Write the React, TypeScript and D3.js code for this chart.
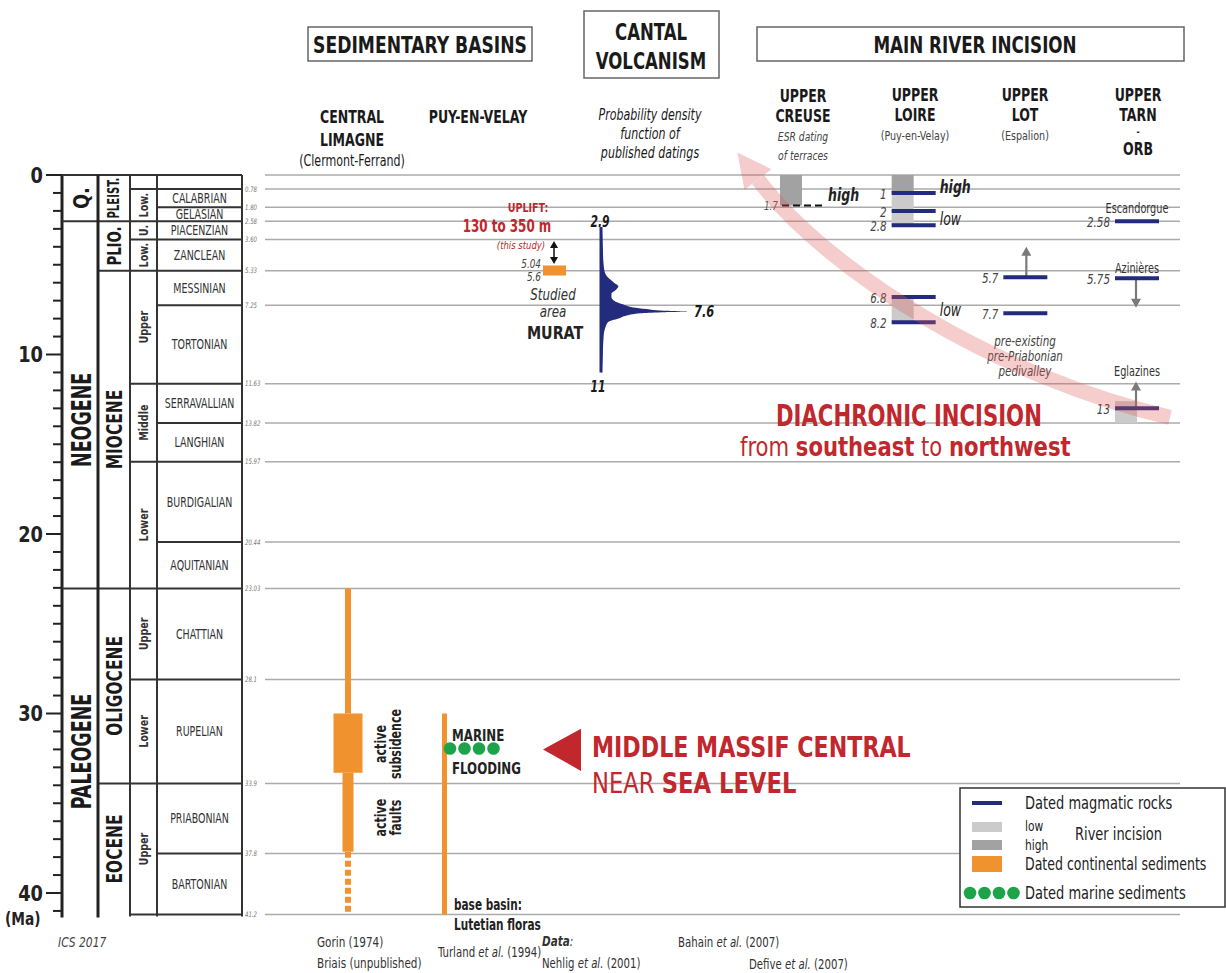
import * as d3 from "d3";

const FONT = "'Liberation Sans Narrow', 'DejaVu Sans Condensed', 'Arial Narrow', sans-serif";
const RED = "#c1272d";
const NAVY = "#232b7c";
const ORANGE = "#f0922e";
const GREEN = "#1fa34a";
const GREY_LOW = "#cbcbcb";
const GREY_HIGH = "#a2a2a2";

// chronostratigraphy (ICS 2017), ages in Ma
const eras = [
  { name: "Q.", top: 0, base: 2.58 },
  { name: "NEOGENE", top: 2.58, base: 23.03 },
  { name: "PALEOGENE", top: 23.03, base: 41.2 },
];
const epochs = [
  { name: "PLEIST.", top: 0, base: 2.58 },
  { name: "PLIO.", top: 2.58, base: 5.33 },
  { name: "MIOCENE", top: 5.33, base: 23.03 },
  { name: "OLIGOCENE", top: 23.03, base: 33.9 },
  { name: "EOCENE", top: 33.9, base: 41.2 },
];
const subEpochs = [
  { name: "", top: 0, base: 0.78 },
  { name: "Low.", top: 0.78, base: 2.58 },
  { name: "U.", top: 2.58, base: 3.6 },
  { name: "Low.", top: 3.6, base: 5.33 },
  { name: "Upper", top: 5.33, base: 11.63 },
  { name: "Middle", top: 11.63, base: 15.97 },
  { name: "Lower", top: 15.97, base: 23.03 },
  { name: "Upper", top: 23.03, base: 28.1 },
  { name: "Lower", top: 28.1, base: 33.9 },
  { name: "Upper", top: 33.9, base: 41.2 },
];
const stages = [
  { name: "", top: 0, base: 0.78 },
  { name: "CALABRIAN", top: 0.78, base: 1.8 },
  { name: "GELASIAN", top: 1.8, base: 2.58 },
  { name: "PIACENZIAN", top: 2.58, base: 3.6 },
  { name: "ZANCLEAN", top: 3.6, base: 5.33 },
  { name: "MESSINIAN", top: 5.33, base: 7.25 },
  { name: "TORTONIAN", top: 7.25, base: 11.63 },
  { name: "SERRAVALLIAN", top: 11.63, base: 13.82 },
  { name: "LANGHIAN", top: 13.82, base: 15.97 },
  { name: "BURDIGALIAN", top: 15.97, base: 20.44 },
  { name: "AQUITANIAN", top: 20.44, base: 23.03 },
  { name: "CHATTIAN", top: 23.03, base: 28.1 },
  { name: "RUPELIAN", top: 28.1, base: 33.9 },
  { name: "PRIABONIAN", top: 33.9, base: 37.8 },
  { name: "BARTONIAN", top: 37.8, base: 41.2 },
];
const boundaryAges = [0, 0.78, 1.8, 2.58, 3.6, 5.33, 7.25, 11.63, 13.82, 15.97, 20.44, 23.03, 28.1, 33.9, 37.8, 41.2];
const boundaryLabels = ["", "0.78", "1.80", "2.58", "3.60", "5.33", "7.25", "11.63", "13.82", "15.97", "20.44", "23.03", "28.1", "33.9", "37.8", "41.2"];
const majorTicks = [0, 10, 20, 30, 40];

// Cantal volcanism probability density (relative)
const pdfAges = [2.9, 4.0, 5.0, 5.5, 5.8, 6.0, 6.2, 6.4, 6.6, 6.8, 7.0, 7.2, 7.4, 7.5, 7.56, 7.6, 7.64, 7.7, 7.8, 8.0, 8.2, 8.5, 9.0, 10.0, 11.0];
const pdfDensity = [0.01, 0.02, 0.03, 0.05, 0.1, 0.15, 0.2, 0.17, 0.12, 0.12, 0.15, 0.25, 0.4, 0.58, 0.75, 1.0, 0.7, 0.45, 0.32, 0.2, 0.08, 0.05, 0.03, 0.02, 0.01];

// sedimentary basins
const limagneSegments = [
  { top: 23.03, base: 30, width: 6, dashed: false },
  { top: 30, base: 33.3, width: 29, dashed: false },
  { top: 33.3, base: 37.7, width: 11, dashed: false },
  { top: 37.7, base: 41.2, width: 6, dashed: true },
];
const puySegment = { top: 30, base: 41.2 };
const marineFloodingAge = 31.95;
const marineDots = [0, 1, 2, 3];
const studiedArea = { top: 5.04, base: 5.6 };

// river incision
const rivers = ["creuse", "loire", "lot", "tarn"];
const magmaticRocks = [
  { river: "loire", age: 1, label: "1" },
  { river: "loire", age: 2, label: "2" },
  { river: "loire", age: 2.8, label: "2.8" },
  { river: "loire", age: 6.8, label: "6.8" },
  { river: "loire", age: 8.2, label: "8.2" },
  { river: "lot", age: 5.7, label: "5.7" },
  { river: "lot", age: 7.7, label: "7.7" },
  { river: "tarn", age: 2.58, label: "2.58" },
  { river: "tarn", age: 5.75, label: "5.75" },
  { river: "tarn", age: 13, label: "13" },
];
const incisionBoxes = [
  { river: "creuse", top: 0, base: 1.7, level: "high" },
  { river: "loire", top: 0, base: 1, level: "high" },
  { river: "loire", top: 1, base: 2.8, level: "low" },
  { river: "loire", top: 6.8, base: 8.2, level: "low" },
  { river: "tarn", top: 12.6, base: 13.82, level: "low" },
];
const incisionArrows = [
  { river: "lot", from: 5.7, to: 4.0, dx: 0 },
  { river: "tarn", from: 5.75, to: 7.4, dx: -2 },
  { river: "tarn", from: 13, to: 11.5, dx: -2 },
];
const siteNames = [
  { river: "tarn", age: 1.85, name: "Escandorgue" },
  { river: "tarn", age: 5.2, name: "Azinières" },
  { river: "tarn", age: 10.95, name: "Eglazines" },
];
const levelNotes = [
  { river: "creuse", age: 1.1, text: "high", bold: true },
  { river: "loire", age: 0.65, text: "high", bold: true },
  { river: "loire", age: 2.45, text: "low", bold: false },
  { river: "loire", age: 7.5, text: "low", bold: false },
];

const y = d3.scaleLinear().domain([0, 40]).range([175, 893]);
const riverX = d3.scalePoint<string>().domain(rivers).range([803, 1138]);
const pdfX0 = 601;
const pdfX = d3.scaleLinear().domain([0, 1]).range([pdfX0, pdfX0 + 87]);

const COL = { axis: 62, era: 98, epoch: 130, sub: 157, stage: 242 };

// condensed text: horizontal squeeze along the text direction
function T({ x, y: ty, sx = 0.82, rot = 0, children, ...rest }: any) {
  return (
    <text transform={`translate(${x},${ty})${rot ? ` rotate(${rot})` : ""} scale(${sx},1)`} {...rest}>
      {children}
    </text>
  );
}

function VArrow({ x, from, to, color = "#7a7a7a" }: { x: number; from: number; to: number; color?: string }) {
  const y1 = y(from);
  const y2 = y(to);
  const dir = y2 < y1 ? 1 : -1;
  return (
    <g>
      <line x1={x} x2={x} y1={y1} y2={y2 + dir * 8} stroke={color} strokeWidth={2.2} />
      <path d={`M${x - 5},${y2 + dir * 9}L${x + 5},${y2 + dir * 9}L${x},${y2}Z`} fill={color} />
      <line x1={x - 9} x2={x + 9} y1={y1} y2={y1} stroke={color} strokeWidth={1.5} />
    </g>
  );
}

export default function App() {
  const pdfData = pdfAges.map((a, i) => ({ age: a, d: pdfDensity[i] }));
  const area = d3
    .area<{ age: number; d: number }>()
    .y((d) => y(d.age))
    .x0(pdfX0)
    .x1((d) => pdfX(d.d))
    .curve(d3.curveMonotoneY);

  const leftOf = (age: number) => {
    if (eras.some((e) => e.top === age)) return COL.axis;
    if (epochs.some((e) => e.top === age)) return COL.era;
    if (subEpochs.some((e) => e.top === age)) return COL.epoch;
    return COL.sub;
  };

  // pink diachronic arrow (drawn in Ma space)
  const p0 = [1170, y(13.5)];
  const c1 = [1000, y(11.3)];
  const c2 = [830, y(5.5)];
  const p3 = [758, y(0.25)];
  const dx = p3[0] - c2[0];
  const dy = p3[1] - c2[1];
  const len = Math.hypot(dx, dy);
  const ux = dx / len;
  const uy = dy / len;
  const tip = [p3[0] + ux * 34, p3[1] + uy * 34];
  const hl = [p3[0] - uy * 17, p3[1] + ux * 17];
  const hr = [p3[0] + uy * 17, p3[1] - ux * 17];

  return (
    <svg width={1226} height={973} style={{ position: "absolute", left: 0, top: 0, background: "#fff" }} fontFamily={FONT}>
      {/* grey time lines across the panels */}
      {boundaryAges.map((a, i) => (
        <g key={"b" + i}>
          <line x1={265} x2={1180} y1={y(a)} y2={y(a)} stroke="#ababab" strokeWidth={1.5} />
          <T x={245} y={y(a)} sx={0.8} dy="0.35em" fontSize={7.5} fontStyle="italic" fill="#777">
            {boundaryLabels[i]}
          </T>
        </g>
      ))}

      {/* axis */}
      <line x1={COL.axis} x2={COL.axis} y1={y(0)} y2={y(41.2) + 3} stroke="#222" strokeWidth={3} />
      {d3.range(0, 42).map((t) => (
        <line key={"t" + t} x1={majorTicks.includes(t) ? 46 : 53} x2={COL.axis} y1={y(t)} y2={y(t)} stroke="#222" strokeWidth={2} />
      ))}
      {majorTicks.map((t) => (
        <T key={"tl" + t} x={43} y={y(t)} sx={0.9} dy="0.36em" textAnchor="end" fontSize={22} fontWeight="bold" fill="#222">
          {t}
        </T>
      ))}
      <T x={5} y={y(41.4)} sx={0.85} dy="0.36em" fontSize={18} fontWeight="bold" fill="#222">
        (Ma)
      </T>
      <T x={58} y={947} sx={0.85} fontSize={14} fontStyle="italic" fill="#444">
        ICS 2017
      </T>

      {/* chronostratigraphic table */}
      <line x1={COL.axis} x2={COL.stage} y1={y(0)} y2={y(0)} stroke="#333" strokeWidth={2.2} />
      {boundaryAges.slice(1, -1).map((a) => (
        <line key={"h" + a} x1={leftOf(a)} x2={COL.stage} y1={y(a)} y2={y(a)} stroke="#333" strokeWidth={2} />
      ))}
      <line x1={COL.epoch} x2={COL.stage} y1={y(41.2)} y2={y(41.2)} stroke="#333" strokeWidth={2} />
      <line x1={COL.era} x2={COL.era} y1={y(0)} y2={y(41.2) + 3} stroke="#222" strokeWidth={3} />
      <line x1={COL.epoch} x2={COL.epoch} y1={y(0)} y2={y(41.2) + 2} stroke="#333" strokeWidth={2} />
      <line x1={COL.sub} x2={COL.sub} y1={y(0)} y2={y(41.2) + 2} stroke="#333" strokeWidth={2} />
      <line x1={COL.stage} x2={COL.stage} y1={y(0)} y2={y(41.2) + 2} stroke="#333" strokeWidth={2} />

      {eras.map((e) => (
        <T key={e.name} x={(COL.axis + COL.era) / 2 + 1} y={y((e.top + e.base) / 2) + (e.name === "NEOGENE" ? 15 : 0)}
          rot={-90} sx={e.name === "Q." ? 0.9 : 0.72} textAnchor="middle" dy="0.36em" fontSize={e.name === "Q." ? 22 : 27} fontWeight="bold" fill="#1a1a1a">
          {e.name}
        </T>
      ))}
      {epochs.map((e) => (
        <T key={e.name} x={(COL.era + COL.epoch) / 2} y={y((e.top + e.base) / 2)} rot={-90}
          sx={e.name === "PLEIST." ? 0.75 : 0.78} textAnchor="middle" dy="0.36em" fontSize={e.name === "PLEIST." ? 15 : e.name === "PLIO." ? 19 : 22} fontWeight="bold" fill="#1a1a1a">
          {e.name}
        </T>
      ))}
      {subEpochs.map((e, i) => (
        <T key={"s" + i} x={(COL.epoch + COL.sub) / 2} y={y((e.top + e.base) / 2)} rot={-90} sx={0.82}
          textAnchor="middle" dy="0.36em" fontSize={13} fontWeight="bold" fill="#333">
          {e.name}
        </T>
      ))}
      {stages.map((s, i) => (
        <T key={"st" + i} x={(COL.sub + COL.stage) / 2} y={y((s.top + s.base) / 2)} sx={0.78} dy="0.36em" textAnchor="middle" fontSize={13.5} fill="#333">
          {s.name}
        </T>
      ))}

      {/* header boxes */}
      <rect x={308} y={27} width={224} height={34} fill="none" stroke="#666" strokeWidth={1.5} />
      <T x={420} y={53} sx={0.83} textAnchor="middle" fontSize={23} fontWeight="bold" fill="#1a1a1a">SEDIMENTARY BASINS</T>
      <rect x={584} y={11} width={135} height={67} fill="none" stroke="#666" strokeWidth={1.5} />
      <T x={651} y={40} sx={0.8} textAnchor="middle" fontSize={23} fontWeight="bold" fill="#1a1a1a">CANTAL</T>
      <T x={651} y={69} sx={0.8} textAnchor="middle" fontSize={23} fontWeight="bold" fill="#1a1a1a">VOLCANISM</T>
      <rect x={757} y={27} width={427} height={34} fill="none" stroke="#666" strokeWidth={1.5} />
      <T x={975} y={53} sx={0.81} textAnchor="middle" fontSize={23} fontWeight="bold" fill="#1a1a1a">MAIN RIVER INCISION</T>

      {/* column headers */}
      <g textAnchor="middle" fill="#1a1a1a">
        <T x={352} y={123} fontSize={17} fontWeight="bold">CENTRAL</T>
        <T x={352} y={146} fontSize={17} fontWeight="bold">LIMAGNE</T>
        <T x={352} y={166} fontSize={15}>(Clermont-Ferrand)</T>
        <T x={478} y={123} fontSize={17} fontWeight="bold">PUY-EN-VELAY</T>
        <T x={650} y={120} fontSize={15} fontStyle="italic">Probability density</T>
        <T x={650} y={139} fontSize={15} fontStyle="italic">function of</T>
        <T x={650} y={158} fontSize={15} fontStyle="italic">published datings</T>
        <T x={803} y={102} fontSize={17} fontWeight="bold">UPPER</T>
        <T x={803} y={122} fontSize={17} fontWeight="bold">CREUSE</T>
        <T x={803} y={141} fontSize={12.5} fontStyle="italic" fill="#444">ESR dating</T>
        <T x={803} y={160} fontSize={12.5} fontStyle="italic" fill="#444">of terraces</T>
        <T x={915} y={101} fontSize={17} fontWeight="bold">UPPER</T>
        <T x={915} y={121} fontSize={17} fontWeight="bold">LOIRE</T>
        <T x={915} y={140} fontSize={13} fill="#444">(Puy-en-Velay)</T>
        <T x={1025} y={101} fontSize={17} fontWeight="bold">UPPER</T>
        <T x={1025} y={121} fontSize={17} fontWeight="bold">LOT</T>
        <T x={1025} y={140} fontSize={13} fill="#444">(Espalion)</T>
        <T x={1138} y={101} fontSize={17} fontWeight="bold">UPPER</T>
        <T x={1138} y={121} fontSize={17} fontWeight="bold">TARN</T>
        <T x={1138} y={135} fontSize={10} fontWeight="bold">-</T>
        <T x={1138} y={155} fontSize={17} fontWeight="bold">ORB</T>
      </g>

      {/* Central Limagne */}
      {limagneSegments.map((s, i) => (
        s.dashed ? (
          <line key={"lim" + i} x1={348} x2={348} y1={y(s.top)} y2={y(s.base)} stroke={ORANGE} strokeWidth={s.width} strokeDasharray="6,3" />
        ) : (
          <rect key={"lim" + i} x={348 - s.width / 2} y={y(s.top)} width={s.width} height={y(s.base) - y(s.top)} fill={ORANGE} />
        )
      ))}
      <T x={386} y={y(31.7)} rot={-90} sx={0.82} textAnchor="middle" fontSize={15} fontWeight="bold" fill="#222">active</T>
      <T x={401} y={y(31.7)} rot={-90} sx={0.82} textAnchor="middle" fontSize={15} fontWeight="bold" fill="#222">subsidence</T>
      <T x={386} y={y(35.8)} rot={-90} sx={0.82} textAnchor="middle" fontSize={15} fontWeight="bold" fill="#222">active</T>
      <T x={401} y={y(35.8)} rot={-90} sx={0.82} textAnchor="middle" fontSize={15} fontWeight="bold" fill="#222">faults</T>

      {/* Puy-en-Velay */}
      <rect x={442} y={y(puySegment.top)} width={5} height={y(puySegment.base) - y(puySegment.top)} fill={ORANGE} />
      {marineDots.map((k) => (
        <circle key={"md" + k} cx={450 + k * 14.5} cy={y(marineFloodingAge)} r={6.3} fill={GREEN} />
      ))}
      <T x={452} y={741} sx={0.82} fontSize={16} fontWeight="bold" fill="#222">MARINE</T>
      <T x={452} y={774} sx={0.82} fontSize={16} fontWeight="bold" fill="#222">FLOODING</T>
      <T x={454} y={910} sx={0.78} fontSize={15} fontWeight="bold" fill="#222">base basin:</T>
      <T x={454} y={930} sx={0.78} fontSize={15} fontWeight="bold" fill="#222">Lutetian floras</T>

      {/* Middle Massif Central */}
      <path d={`M543,${y(32)}L581,${y(30.85)}L581,${y(33.2)}Z`} fill={RED} />
      <T x={592} y={757} sx={0.85} fontSize={29} fontWeight="bold" fill={RED}>MIDDLE MASSIF CENTRAL</T>
      <T x={592} y={793} sx={0.9} fontSize={28} fill={RED}>
        NEAR <tspan fontWeight="bold">SEA LEVEL</tspan>
      </T>

      {/* Cantal volcanism */}
      <path d={area(pdfData) || ""} fill={NAVY} />
      <line x1={pdfX0} x2={pdfX0} y1={y(2.9)} y2={y(11)} stroke={NAVY} strokeWidth={3} />
      <T x={600} y={227} sx={0.8} textAnchor="middle" fontSize={15} fontWeight="bold" fontStyle="italic" fill="#1a1a1a">2.9</T>
      <T x={694} y={y(7.6)} sx={0.85} dy="0.36em" fontSize={15} fontWeight="bold" fontStyle="italic" fill="#1a1a1a">7.6</T>
      <T x={598} y={392} sx={0.8} textAnchor="middle" fontSize={15} fontWeight="bold" fontStyle="italic" fill="#1a1a1a">11</T>

      {/* studied area Murat */}
      <rect x={543} y={y(studiedArea.top)} width={23} height={y(studiedArea.base) - y(studiedArea.top)} fill={ORANGE} />
      <T x={541} y={y(studiedArea.top)} dy="0.2em" textAnchor="end" fontSize={12} fontStyle="italic" fill="#444">5.04</T>
      <T x={541} y={y(studiedArea.base)} dy="0.45em" textAnchor="end" fontSize={12} fontStyle="italic" fill="#444">5.6</T>
      <T x={553} y={300} sx={0.88} textAnchor="middle" fontSize={15} fontStyle="italic" fill="#333">Studied</T>
      <T x={553} y={317} sx={0.88} textAnchor="middle" fontSize={15} fontStyle="italic" fill="#333">area</T>
      <T x={555} y={339} sx={0.88} textAnchor="middle" fontSize={18} fontWeight="bold" fill="#222">MURAT</T>
      <T x={528} y={212} sx={0.85} textAnchor="middle" fontSize={12.5} fontWeight="bold" fill={RED}>UPLIFT:</T>
      <T x={507} y={232} sx={0.78} textAnchor="middle" fontSize={17} fontWeight="bold" fill={RED}>130 to 350 m</T>
      <T x={521} y={249} sx={0.9} textAnchor="middle" fontSize={10.5} fontStyle="italic" fill={RED}>(this study)</T>
      <line x1={554} x2={554} y1={247} y2={258} stroke="#111" strokeWidth={1.5} />
      <path d="M550,248L558,248L554,241Z" fill="#111" />
      <path d="M550,257L558,257L554,264Z" fill="#111" />

      {/* river incision */}
      {incisionBoxes.map((b, i) => (
        <rect key={"ib" + i} x={(riverX(b.river) as number) - 23} y={y(b.top)} width={22}
          height={y(b.base) - y(b.top)} fill={b.level === "high" ? GREY_HIGH : GREY_LOW} />
      ))}
      <line x1={782} x2={824} y1={y(1.7)} y2={y(1.7)} stroke="#111" strokeWidth={2} strokeDasharray="7,4" />
      <T x={778} y={y(1.7)} dy="0.36em" textAnchor="end" fontSize={12} fontStyle="italic" fill="#555">1.7</T>
      {levelNotes.map((n, i) => (
        <T key={"ln" + i} x={(riverX(n.river) as number) + 25} y={y(n.age)} dy="0.36em" fontSize={17}
          fontWeight={n.bold ? "bold" : "normal"} fontStyle="italic" fill="#222">
          {n.text}
        </T>
      ))}
      {incisionArrows.map((a, i) => (
        <VArrow key={"ia" + i} x={(riverX(a.river) as number) + a.dx} from={a.from} to={a.to} />
      ))}
      {magmaticRocks.map((m, i) => (
        <g key={"mr" + i}>
          <line x1={(riverX(m.river) as number) - 23} x2={(riverX(m.river) as number) + 21} y1={y(m.age)} y2={y(m.age)} stroke={NAVY} strokeWidth={4} />
          <T x={(riverX(m.river) as number) - 28} y={y(m.age)} dy="0.4em" textAnchor="end" fontSize={14} fontStyle="italic" fill="#444">
            {m.label}
          </T>
        </g>
      ))}
      {siteNames.map((s) => (
        <T key={s.name} x={(riverX(s.river) as number) - 1} y={y(s.age)} sx={0.8} dy="0.36em" textAnchor="middle" fontSize={13.5} fill="#333">
          {s.name}
        </T>
      ))}
      <g textAnchor="middle" fontStyle="italic" fill="#444">
        <T x={1025} y={346} sx={0.85} fontSize={13.5}>pre-existing</T>
        <T x={1025} y={361} sx={0.85} fontSize={13.5}>pre-Priabonian</T>
        <T x={1025} y={376} sx={0.85} fontSize={13.5}>pedivalley</T>
      </g>

      {/* diachronic incision arrow */}
      <g opacity={0.3}>
        <path d={`M${p0[0]},${p0[1]}C${c1[0]},${c1[1]} ${c2[0]},${c2[1]} ${p3[0]},${p3[1]}`} fill="none" stroke="#e05a5a" strokeWidth={15} />
        <path d={`M${tip[0]},${tip[1]}L${hl[0]},${hl[1]}L${hr[0]},${hr[1]}Z`} fill="#e05a5a" />
      </g>
      <T x={776} y={426} sx={0.76} fontSize={31} fontWeight="bold" fill={RED}>DIACHRONIC  INCISION</T>
      <T x={740} y={456} sx={0.87} fontSize={27} fill={RED}>
        from <tspan fontWeight="bold">southeast</tspan> to <tspan fontWeight="bold">northwest</tspan>
      </T>

      {/* legend */}
      <rect x={960} y={788} width={265} height={119} fill="#fff" stroke="#333" strokeWidth={1.5} />
      <line x1={972} x2={1002} y1={803} y2={803} stroke={NAVY} strokeWidth={4} />
      <T x={1025} y={803} sx={0.85} dy="0.36em" fontSize={17} fill="#222">Dated magmatic rocks</T>
      <rect x={972} y={822} width={30} height={10} fill={GREY_LOW} />
      <rect x={972} y={840} width={30} height={10} fill={GREY_HIGH} />
      <T x={1025} y={826} sx={0.85} dy="0.36em" fontSize={14} fill="#222">low</T>
      <T x={1025} y={845} sx={0.85} dy="0.36em" fontSize={14} fill="#222">high</T>
      <T x={1075} y={834} sx={0.85} dy="0.36em" fontSize={17} fill="#222">River incision</T>
      <rect x={972} y={856} width={30} height={16} fill={ORANGE} />
      <T x={1025} y={864} sx={0.82} dy="0.36em" fontSize={17} fill="#222">Dated continental sediments</T>
      {marineDots.map((k) => (
        <circle key={"lg" + k} cx={970 + k * 14.5} cy={893} r={6.3} fill={GREEN} />
      ))}
      <T x={1025} y={893} sx={0.85} dy="0.36em" fontSize={17} fill="#222">Dated marine sediments</T>

      {/* data credits */}
      <g fill="#333">
        <T x={317} y={947} sx={0.8} fontSize={14.5}>Gorin (1974)</T>
        <T x={317} y={968} sx={0.8} fontSize={14.5}>Briais (unpublished)</T>
        <T x={438} y={957} sx={0.78} fontSize={14.5}>Turland <tspan fontStyle="italic">et al.</tspan> (1994)</T>
        <T x={542} y={946} sx={0.8} fontSize={14.5} fontWeight="bold" fontStyle="italic">Data<tspan fontWeight="normal">:</tspan></T>
        <T x={542} y={968} sx={0.78} fontSize={14.5}>Nehlig <tspan fontStyle="italic">et al.</tspan> (2001)</T>
        <T x={678} y={947} sx={0.78} fontSize={14.5}>Bahain <tspan fontStyle="italic">et al.</tspan> (2007)</T>
        <T x={749} y={969} sx={0.78} fontSize={14.5}>Defive <tspan fontStyle="italic">et al.</tspan> (2007)</T>
      </g>
    </svg>
  );
}
